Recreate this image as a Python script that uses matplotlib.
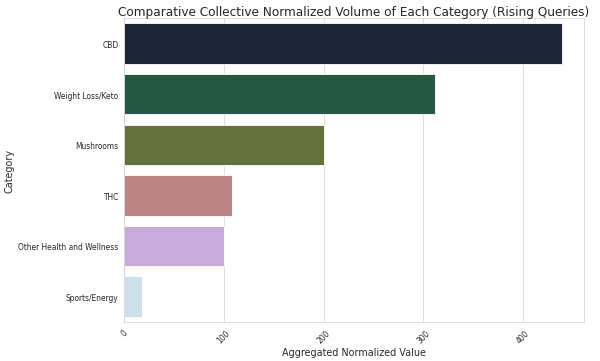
import matplotlib
matplotlib.use("Agg")
import matplotlib.pyplot as plt
import seaborn as sns
import pandas as pd

# Aggregated normalized volume per category (rising queries)
categories = ["CBD", "Weight Loss/Keto", "Mushrooms", "THC",
              "Other Health and Wellness", "Sports/Energy"]
values = [439, 312, 200, 108, 100, 17.5]

df = pd.DataFrame({"Category": categories, "Value": values})

sns.set_style("whitegrid")
fig, ax = plt.subplots(figsize=(10, 6.033), dpi=60)
sns.barplot(data=df, x="Value", y="Category", hue="Category",
            palette="cubehelix", legend=False, ax=ax)

ax.set_title("Comparative Collective Normalized Volume of Each Category (Rising Queries)",
             fontsize=14.5, pad=4)
ax.set_xlabel("Aggregated Normalized Value", fontsize=11.5)
ax.set_ylabel("Category", fontsize=11.5)
ax.tick_params(axis="y", labelsize=9)
ax.tick_params(axis="x", labelsize=9, rotation=45)

plt.subplots_adjust(left=0.207, right=0.973, top=0.947, bottom=0.108)
plt.savefig("out.png", dpi=60)
